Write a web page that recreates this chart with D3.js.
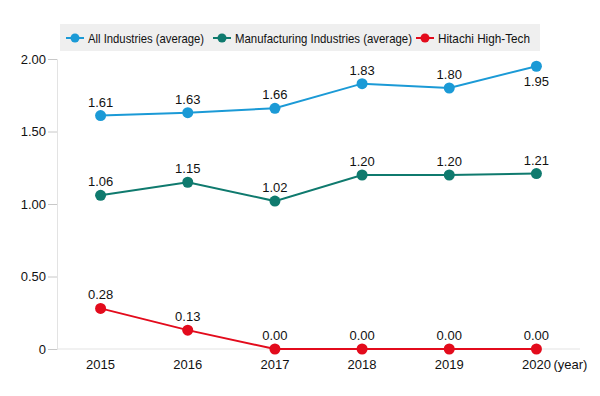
<!DOCTYPE html>
<html lang="en">
<head>
  <meta charset="UTF-8">
  <script src="https://d3js.org/d3.v7.min.js"></script>
  <style>
    body { margin: 0; background: #fff; }
    text { font-family: "Liberation Sans", Arial, sans-serif; }
  </style>
</head>
<body>
  <svg width="600" height="396"></svg>
  <script>
    // data
    var years = ["2015", "2016", "2017", "2018", "2019", "2020"]
    var allInd = [1.61, 1.63, 1.66, 1.83, 1.80, 1.95]
    var manuf = [1.06, 1.15, 1.02, 1.20, 1.20, 1.21]
    var hitachi = [0.28, 0.13, 0.00, 0.00, 0.00, 0.00]
    var seriesNames = ["All Industries (average)", "Manufacturing Industries (average)", "Hitachi High-Tech"]
    var colors = ["#1b9ad6", "#0f7a6e", "#e30b1c"]
    var yTicks = [0, 0.5, 1, 1.5, 2]

    var series = [allInd, manuf, hitachi]

    var svg = d3.select("svg")
    var marge = { left: 57, right: 20, top: 59, bottom: 47 }

    var x = d3.scalePoint()
      .domain(years)
      .range([marge.left, 580])
      .padding(0.5)
    var y = d3.scaleLinear()
      .domain([0, 2])
      .range([349, 59])

    // x axis line
    svg.append("line")
      .attr("x1", marge.left).attr("x2", 580)
      .attr("y1", y(0)).attr("y2", y(0))
      .attr("stroke", "#e3e3e3").attr("stroke-width", 1)

    // y axis
    var yAxis = d3.axisLeft(y)
      .tickValues(yTicks)
      .tickSize(9)
      .tickPadding(2)
      .tickFormat(function(d){ return d === 0 ? "0" : d3.format(".2f")(d) })
    var gy = svg.append("g")
      .attr("transform", "translate(" + marge.left + ",0)")
      .call(yAxis)
    gy.select(".domain").attr("stroke", "#e3e3e3")
    gy.selectAll(".tick line").attr("stroke", "#c8c8c8")
    gy.selectAll(".tick text")
      .attr("font-size", 13).attr("fill", "#111")
      .attr("font-family", "Liberation Sans, Arial, sans-serif")

    // x labels
    svg.append("g").selectAll("text")
      .data(years)
      .enter()
      .append("text")
      .attr("x", function(d){ return x(d) })
      .attr("y", y(0) + 20)
      .attr("text-anchor", "middle")
      .attr("font-size", 13)
      .attr("fill", "#111")
      .text(function(d){ return d })
    svg.append("text")
      .attr("x", x("2020") + 17)
      .attr("y", y(0) + 20)
      .attr("font-size", 13)
      .attr("fill", "#111")
      .attr("textLength", 34)
      .attr("lengthAdjust", "spacingAndGlyphs")
      .text("(year)")

    // lines
    var line = d3.line()
      .x(function(d, i){ return x(years[i]) })
      .y(function(d){ return y(d) })

    series.forEach(function(s, k){
      svg.append("path")
        .datum(s)
        .attr("d", line)
        .attr("fill", "none")
        .attr("stroke", colors[k])
        .attr("stroke-width", 2)
      svg.append("g").selectAll("circle")
        .data(s)
        .enter()
        .append("circle")
        .attr("cx", function(d, i){ return x(years[i]) })
        .attr("cy", function(d){ return y(d) })
        .attr("r", 5.5)
        .attr("fill", colors[k])
      svg.append("g").selectAll("text")
        .data(s)
        .enter()
        .append("text")
        .attr("x", function(d, i){ return x(years[i]) })
        .attr("y", function(d, i){
          // last blue label sits under the point
          if (k === 0 && i === 5) return y(d) + 20
          return y(d) - 9
        })
        .attr("text-anchor", "middle")
        .attr("font-size", 13)
        .attr("fill", "#111")
        .text(function(d){ return d3.format(".2f")(d) })
    })

    // legend
    var legend = svg.append("g")
    legend.append("rect")
      .attr("x", 60).attr("y", 24)
      .attr("width", 480).attr("height", 27)
      .attr("fill", "#efefef")
    var lx = [66, 213, 416]
    var lw = [116, 177, 92]
    seriesNames.forEach(function(name, k){
      var g = legend.append("g").attr("transform", "translate(" + lx[k] + ",38)")
      g.append("line")
        .attr("x1", 0).attr("x2", 18)
        .attr("stroke", colors[k]).attr("stroke-width", 2)
      g.append("circle")
        .attr("cx", 9).attr("r", 4.5)
        .attr("fill", colors[k])
      g.append("text")
        .attr("x", 22).attr("y", 4.5)
        .attr("font-size", 13)
        .attr("fill", "#111")
        .attr("textLength", lw[k])
        .attr("lengthAdjust", "spacingAndGlyphs")
        .text(name)
    })
  </script>
</body>
</html>
